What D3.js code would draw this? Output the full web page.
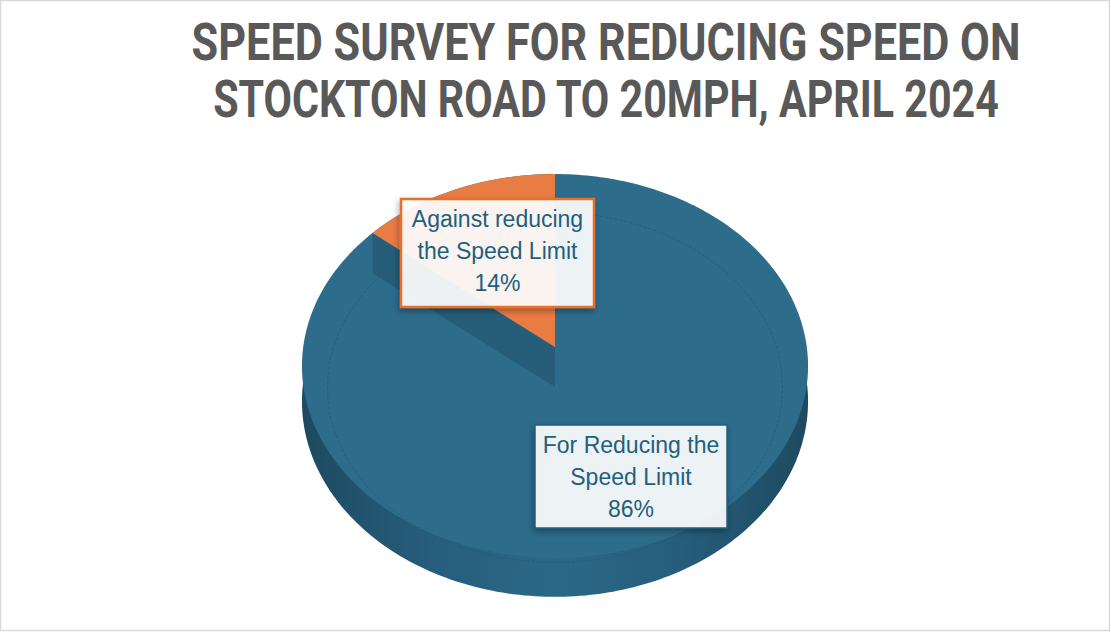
<!DOCTYPE html>
<html>
<head>
<meta charset="utf-8">
<script src="https://cdn.jsdelivr.net/npm/d3@7"></script>
<style>
  html, body { margin: 0; padding: 0; background: #fff; }
  svg { display: block; }
</style>
</head>
<body>
<div id="chart"></div>
<script>
// Chart data
var categories = ['For Reducing the Speed Limit', 'Against reducing the Speed Limit'];
var values = [86, 14];
var labelLines = [['For Reducing the', 'Speed Limit'], ['Against reducing', 'the Speed Limit']];
var titleLines = ['SPEED SURVEY FOR REDUCING SPEED ON', 'STOCKTON ROAD TO 20MPH, APRIL 2024'];

var width = 1111;
var height = 633;

// Pie geometry (tilted disc with a bit of perspective)
var cx = 555;
var cy = 347;
var rx = 251.8;
var ry = 190.1;
var k = 0.099;
var depth = 35;
var fills = ['#2d6c8b', '#e97c43'];
var sideColor = '#265d78';
var textColor = '#215f7e';

function project(angle, r, z) {
  var u = r * Math.sin(angle);
  var v = -r * Math.cos(angle);
  var f = 1 / (1 - k * v);
  return [cx + rx * u * f, cy + ry * v * f + z * f];
}

function rim(a0, a1, r, z) {
  var n = Math.max(2, Math.ceil(Math.abs(a1 - a0) / 0.02));
  return d3.range(n + 1).map(function (i) {
    return project(a0 + (a1 - a0) * i / n, r, z);
  });
}

var svg = d3.select('#chart')
            .append('svg')
            .attr('width', width)
            .attr('height', height);

var defs = svg.append('defs');
var grad = defs.append('linearGradient')
               .attr('id', 'side')
               .attr('x1', '0%').attr('x2', '100%')
               .attr('y1', '0%').attr('y2', '0%');
grad.append('stop').attr('offset', '0%').attr('stop-color', '#1d4a60');
grad.append('stop').attr('offset', '25%').attr('stop-color', '#265d7c');
grad.append('stop').attr('offset', '50%').attr('stop-color', '#2b6887');
grad.append('stop').attr('offset', '75%').attr('stop-color', '#265d7c');
grad.append('stop').attr('offset', '100%').attr('stop-color', '#1d4a60');

var shadow = defs.append('filter')
                 .attr('id', 'shadow')
                 .attr('x', '-10%').attr('y', '-10%')
                 .attr('width', '130%').attr('height', '140%');
shadow.append('feDropShadow')
      .attr('dx', -1).attr('dy', 3)
      .attr('stdDeviation', 3)
      .attr('flood-color', '#000')
      .attr('flood-opacity', 0.35);

// Chart frame
svg.append('rect')
   .attr('x', 0.5).attr('y', 0.5)
   .attr('width', width - 2).attr('height', height - 3)
   .attr('fill', '#fff')
   .attr('stroke', '#d9d9d9')
   .attr('stroke-width', 1.5);

// Title: squeeze each line horizontally to the width of the original
var titleWidths = [829, 786];
svg.append('g')
   .attr('class', 'title')
   .selectAll('text')
   .data(titleLines)
   .enter()
   .append('text')
   .attr('x', 0)
   .attr('y', 0)
   .attr('text-anchor', 'middle')
   .attr('font-family', 'Roboto, "Liberation Sans", sans-serif')
   .attr('font-weight', 'bold')
   .attr('font-size', 51)
   .attr('fill', '#595959')
   .text(function (d) { return d; })
   .attr('transform', function (d, i) {
     var natural = this.getComputedTextLength();
     var sx = titleWidths[i] / natural;
     return 'translate(606,' + (60 + i * 57) + ') scale(' + sx + ',1)';
   });

var arcs = d3.pie().sort(null).startAngle(0).endAngle(2 * Math.PI)(values);
var line = d3.line();

var pie = svg.append('g').attr('class', 'pie');

// Side of the disc
pie.append('path')
   .attr('d', line(rim(0, 2 * Math.PI, 1, depth)) + 'Z')
   .attr('fill', 'url(#side)');

// Top face (first slice covers the whole disc, others go on top)
pie.append('path')
   .attr('d', line(rim(0, 2 * Math.PI, 1, 0)) + 'Z')
   .attr('fill', fills[0]);

// Faint bevel ring
pie.append('path')
   .attr('d', line(rim(0, 2 * Math.PI, 0.9, 25)) + 'Z')
   .attr('fill', 'none')
   .attr('stroke', '#245a74')
   .attr('stroke-width', 1)
   .attr('stroke-dasharray', '3,2')
   .attr('opacity', 0.8);

// Smaller slices: cut wall and top face
arcs.slice(1).forEach(function (d, j) {
  var i = j + 1;
  var p0 = project(0, 0, 0);
  var p1 = project(d.startAngle, 1, 0);
  pie.append('path')
     .attr('d', line([p0, p1, [p1[0], p1[1] + 40], [p0[0], p0[1] + 40]]) + 'Z')
     .attr('fill', sideColor);
  pie.append('path')
     .attr('d', line([p0].concat(rim(d.startAngle, d.endAngle, 1, 0))) + 'Z')
     .attr('fill', fills[i]);
});

// Data labels
var fmt = d3.format('.0%');
var total = d3.sum(values);
var boxes = [
  { x: 535, y: 425, w: 192, h: 103, stroke: '#245f7e', sw: 1.5 },
  { x: 401, y: 199, w: 193, h: 108, stroke: '#e8702a', sw: 2.5 }
];

var labels = svg.append('g')
                .attr('class', 'labels')
                .selectAll('g')
                .data(arcs)
                .enter()
                .append('g');

labels.append('rect')
      .attr('x', function (d, i) { return boxes[i].x; })
      .attr('y', function (d, i) { return boxes[i].y; })
      .attr('width', function (d, i) { return boxes[i].w; })
      .attr('height', function (d, i) { return boxes[i].h; })
      .attr('fill', 'rgba(255,255,255,0.9)')
      .attr('stroke', function (d, i) { return boxes[i].stroke; })
      .attr('stroke-width', function (d, i) { return boxes[i].sw; })
      .attr('filter', 'url(#shadow)');

labels.each(function (d, i) {
  var b = boxes[i];
  var lines = labelLines[i].concat([fmt(d.value / total)]);
  d3.select(this)
    .selectAll('text')
    .data(lines)
    .enter()
    .append('text')
    .attr('x', b.x + b.w / 2)
    .attr('y', function (t, n) { return b.y + 28 + n * 32; })
    .attr('text-anchor', 'middle')
    .attr('font-family', '"Liberation Sans", Arial, sans-serif')
    .attr('font-size', 23)
    .attr('fill', textColor)
    .text(function (t) { return t; });
});
</script>
</body>
</html>
